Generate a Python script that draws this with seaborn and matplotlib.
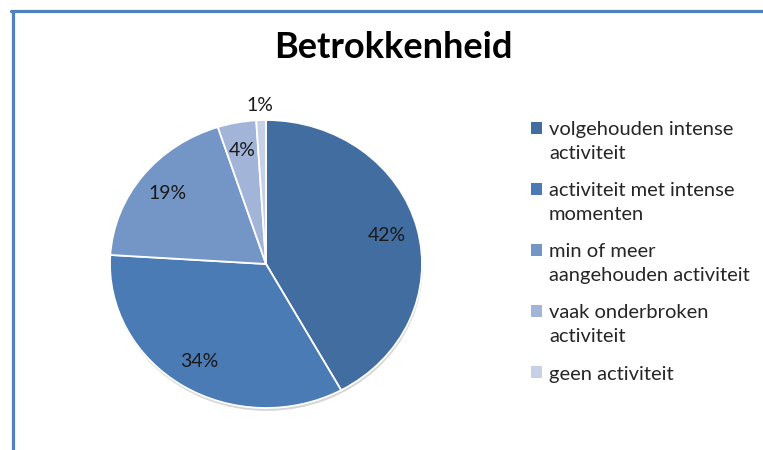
import matplotlib
matplotlib.use("Agg")
import matplotlib.pyplot as plt
import matplotlib.patches as mpatches
from matplotlib.legend_handler import HandlerPatch
import seaborn as sns

# ---- data ----
categories = [
    "volgehouden intense\nactiviteit",
    "activiteit met intense\nmomenten",
    "min of meer\naangehouden activiteit",
    "vaak onderbroken\nactiviteit",
    "geen activiteit",
]
values = [42, 34, 19, 4, 1]
title = "Betrokkenheid"
slice_colors = ["#416DA0", "#4A7BB5", "#7496C7", "#A2B5D8", "#C5D1E7"]

sns.set_theme(style="white")
plt.rcParams["font.family"] = ["Lato", "DejaVu Sans"]

W, H = 763, 450
fig = plt.figure(figsize=(W / 100, H / 100), dpi=100)
fig.patch.set_facecolor("white")

# pie axes (slightly elliptical pie as in the reference)
cx, cy, rx, ry = 266, 264, 156, 144
ax = fig.add_axes([(cx - rx) / W, 1 - (cy + ry) / H, 2 * rx / W, 2 * ry / H])
ax.patch.set_alpha(0)

# soft shadow under the pie
shadow_w, _ = ax.pie([sum(values)], colors=["#d6d6d6"], center=(0.005, -0.02),
                     radius=1.0, wedgeprops=dict(edgecolor="none"))
for s in shadow_w:
    s.set_zorder(0.5)

palette = sns.color_palette(slice_colors)
wedges, texts, autotexts = ax.pie(
    values,
    colors=palette,
    startangle=90,
    counterclock=False,
    autopct="%1.0f%%",
    pctdistance=0.8,
    wedgeprops=dict(edgecolor="white", linewidth=1.3),
    textprops=dict(fontsize=14, color="#1a1a1a"),
)
ax.set_aspect("auto")
ax.set_xlim(-1, 1)
ax.set_ylim(-1, 1)
ax.axis("off")
# small slice label sits outside the pie
autotexts[-1].set_position((-0.04, 1.10))

fig.text(393 / W, 1 - 58 / H, title, ha="center", va="baseline",
         fontsize=26, fontweight="bold", color="black")

LEG_FS = 14.5


class TopSquare(HandlerPatch):
    def __init__(self, shift=0.0, **kw):
        super().__init__(**kw)
        self.shift = shift

    def create_artists(self, legend, orig_handle, xdescent, ydescent,
                       width, height, fontsize, trans):
        p = mpatches.Rectangle((-xdescent, -ydescent + self.shift * fontsize),
                               width, height,
                               facecolor=orig_handle.get_facecolor(),
                               edgecolor="none", transform=trans)
        return [p]


hmap = {w: TopSquare(shift=(0.68 if "\n" in lab else 0.0))
        for w, lab in zip(wedges, categories)}

leg = fig.legend(
    wedges, categories,
    loc="upper left",
    bbox_to_anchor=(531 / W, 1 - 121 / H),
    frameon=False,
    fontsize=LEG_FS,
    handlelength=0.55, handleheight=0.55,
    handletextpad=0.35,
    labelspacing=1.0,
    borderpad=0, borderaxespad=0,
    handler_map=hmap,
)
for t in leg.get_texts():
    t.set_color("#262626")
    t.set_linespacing(1.5)

# blue frame edges (top and left)
frame_color = "#4F81BD"
fig.add_artist(plt.Line2D([11 / W, 1], [1 - 10.5 / H, 1 - 10.5 / H],
                          transform=fig.transFigure, color=frame_color, lw=2.3))
fig.add_artist(plt.Line2D([12.5 / W, 12.5 / W], [1 - 10.5 / H, 0],
                          transform=fig.transFigure, color=frame_color, lw=2.3))

fig.savefig("out.png", dpi=100)
